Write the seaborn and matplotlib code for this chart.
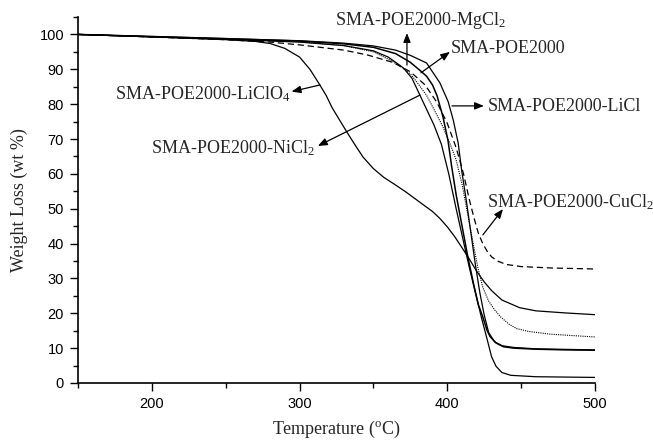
import matplotlib
matplotlib.use("Agg")
import matplotlib.pyplot as plt
import seaborn as sns
import numpy as np

# ---------------- data ----------------
t_liclo4 = [150, 200, 250, 270, 280, 290, 300, 307, 313, 318, 322, 327, 332, 338, 343,
            350, 357, 365, 372, 380, 390, 395, 400, 405, 410, 415, 420, 425, 430, 437, 449, 460, 480, 500]
w_liclo4 = [100, 99.3, 98.5, 98.0, 97.4, 96.0, 93.5, 90.0, 86.0, 82.5, 79.0, 75.5, 72.0, 68.0, 64.8,
            61.5, 59.0, 56.8, 54.8, 52.3, 49.2, 47.2, 44.8, 42.0, 38.8, 35.5, 32.0, 29.0, 26.5, 23.8,
            21.6, 20.7, 20.1, 19.6]

t_nicl2 = [150, 250, 300, 330, 350, 360, 370, 376, 381, 386, 391, 396, 401, 406, 411, 415,
           419, 423, 427, 430, 433, 437, 443, 460, 500]
w_nicl2 = [100, 98.6, 97.8, 96.8, 95.3, 93.5, 90.5, 87.5, 83.0, 78.5, 74.0, 68.5, 60.0, 50.0, 40.5, 33.0,
           26.0, 19.0, 12.5, 7.5, 4.8, 3.0, 2.2, 1.8, 1.6]

t_poe = [150, 250, 300, 330, 350, 365, 375, 382, 386, 390, 393, 397, 400.5, 403, 406, 410, 414,
         418, 421, 424, 427, 429, 433, 438, 445, 460, 480, 500]
w_poe = [100, 98.8, 98.1, 97.3, 96.3, 94.5, 92.0, 89.5, 88.0, 85.5, 82.5, 76.5, 69.5, 62.0, 54.0, 45.0, 36.0,
         28.0, 22.5, 19.0, 15.0, 13.3, 11.5, 10.4, 10.0, 9.7, 9.5, 9.4]

t_licl = [150, 250, 300, 330, 350, 365, 375, 386, 395, 400.6, 404, 407.4, 409.7, 413, 416,
          419, 422, 425, 428, 432, 437, 445, 460, 500]
w_licl = [100, 98.8, 98.2, 97.5, 96.7, 95.5, 94.0, 91.8, 86.1, 80.7, 75.5, 68.8, 61.1, 52.0, 43.0,
          34.0, 26.0, 19.5, 14.5, 11.8, 10.7, 10.2, 9.8, 9.5]

t_mgcl2 = [150, 250, 300, 330, 350, 362, 370, 375, 380, 386, 391, 397, 402, 406, 410, 414, 418,
           421, 424, 428, 432, 436, 442, 447, 455, 470, 485, 500]
w_mgcl2 = [100, 98.7, 97.9, 96.8, 95.0, 92.5, 90.3, 88.7, 86.0, 82.5, 78.5, 73.5, 68.5, 64.0, 57.0, 48.0, 39.0,
           32.5, 27.5, 23.5, 21.0, 19.0, 16.8, 15.6, 14.8, 14.0, 13.6, 13.2]

t_cucl2 = [150, 250, 280, 300, 312, 330, 346, 363, 375, 385, 393, 400, 406, 411, 415, 418,
           421, 424, 427, 430, 434, 440, 450, 470, 500]
w_cucl2 = [100, 98.5, 97.8, 97.0, 96.4, 95.5, 94.1, 92.0, 89.3, 85.5, 80.5, 74.5, 67.5, 60.0, 52.5, 47.5,
           43.0, 40.0, 37.8, 36.2, 35.0, 34.0, 33.4, 33.0, 32.7]

x_ticks = [200, 300, 400, 500]
y_ticks = [0, 10, 20, 30, 40, 50, 60, 70, 80, 90, 100]

# ---------------- style ----------------
sns.set_style("ticks")
plt.rcParams["font.family"] = ["Liberation Sans", "DejaVu Sans"]
plt.rcParams["mathtext.fontset"] = "custom"
plt.rcParams["mathtext.rm"] = "Liberation Serif"
plt.rcParams["mathtext.it"] = "Liberation Serif:italic"

fig = plt.figure(figsize=(6.53, 4.42), dpi=100)
ax = fig.add_axes([78 / 653, 1 - 383 / 442, (595 - 78) / 653, (383 - 17) / 442])

lw = 0.9
sns.lineplot(x=t_liclo4, y=w_liclo4, ax=ax, color="black", lw=lw, estimator=None, sort=False)
sns.lineplot(x=t_nicl2, y=w_nicl2, ax=ax, color="black", lw=lw, estimator=None, sort=False)
sns.lineplot(x=t_poe, y=w_poe, ax=ax, color="black", lw=1.1, estimator=None, sort=False)
sns.lineplot(x=t_licl, y=w_licl, ax=ax, color="black", lw=lw, estimator=None, sort=False)
sns.lineplot(x=t_mgcl2, y=w_mgcl2, ax=ax, color="black", lw=0.8, estimator=None, sort=False,
             linestyle=(0, (1, 1)))
sns.lineplot(x=t_cucl2, y=w_cucl2, ax=ax, color="black", lw=lw, estimator=None, sort=False,
             linestyle=(0, (5, 3)))

ax.set_xlim(150, 500)
ax.set_ylim(0, 105)
ax.set_xticks(x_ticks)
ax.set_yticks(y_ticks)
ax.set_xticks([150, 250, 350, 450], minor=True)
ax.set_yticks(np.arange(5, 106, 10), minor=True)
ax.tick_params(axis="both", which="major", direction="out", length=6, width=1,
               pad=4, labelsize=10.5, color="black", labelcolor="black")
ax.tick_params(axis="both", which="minor", direction="out", length=3.5, width=1, color="black")
sns.despine(ax=ax)
for s in ["left", "bottom"]:
    ax.spines[s].set_linewidth(1.2)
    ax.spines[s].set_color("black")

serif = ["Liberation Serif", "DejaVu Serif"]
ax.set_xlabel(r"Temperature ($^{\mathrm{o}}$C)", family=serif, fontsize=13, labelpad=6)
ax.set_ylabel("Weight Loss (wt %)", family=serif, fontsize=13, labelpad=8)

arrow = dict(arrowstyle="-|>,head_length=0.55,head_width=0.22", color="black", lw=0.9,
             shrinkA=0, shrinkB=0)
fs = 13

def label(text, xy_text, ha, tail, head):
    ax.text(xy_text[0], xy_text[1], text, family=serif, fontsize=fs, ha=ha, va="center")
    ax.annotate("", xy=head, xytext=tail, arrowprops=arrow)

label(r"SMA-POE2000-MgCl$_{\mathrm{2}}$", (381.5, 104.0), "center", (372.7, 91.2), (372.7, 100.4))
label("SMA-POE2000", (402.5, 96.1), "left", (382.2, 89.0), (401.8, 95.0))
label("SMA-POE2000-LiCl", (427.5, 79.2), "left", (403.2, 79.5), (424.8, 79.5))
label(r"SMA-POE2000-NiCl$_{\mathrm{2}}$", (310.4, 67.4), "right", (381.5, 82.6), (312.4, 68.0))
label(r"SMA-POE2000-LiClO$_{\mathrm{4}}$", (293.5, 83.0), "right", (313.8, 85.5), (294.6, 83.6))
label(r"SMA-POE2000-CuCl$_{\mathrm{2}}$", (426.9, 51.9), "left", (424.1, 42.5), (437.7, 49.9))

fig.savefig("out.png", dpi=100)
